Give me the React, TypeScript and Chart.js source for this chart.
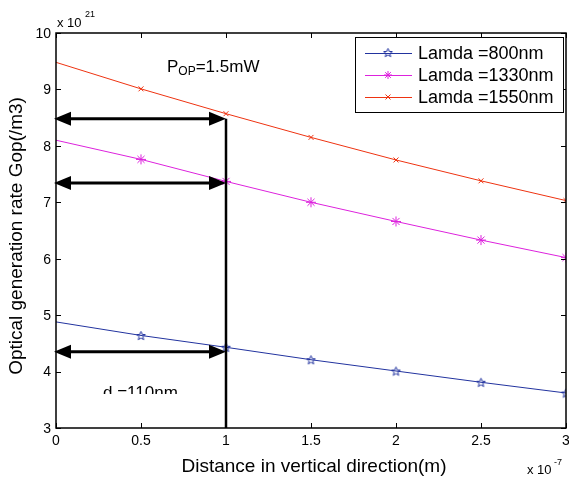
import React, { useEffect, useRef } from "react";
import { Chart, registerables } from "chart.js";
Chart.register(...registerables);

const distance = [0, 0.5, 1, 1.5, 2, 2.5, 3];
const gop800 = [4.88, 4.64, 4.43, 4.21, 4.01, 3.81, 3.62];
const gop1330 = [8.1, 7.76, 7.37, 7.0, 6.66, 6.33, 6.02];
const gop1550 = [9.48, 9.01, 8.57, 8.15, 7.75, 7.38, 7.03];
const seriesLabels = ["Lamda =800nm", "Lamda =1330nm", "Lamda =1550nm"];
const xTicks = [0, 0.5, 1, 1.5, 2, 2.5, 3];
const xTickLabels = ["0", "0.5", "1", "1.5", "2", "2.5", "3"];
const yTicks = [3, 4, 5, 6, 7, 8, 9, 10];
const yTickLabels = ["3", "4", "5", "6", "7", "8", "9", "10"];
const arrowLevels = [8.48, 7.34, 4.35];
const arrowSpan = [0, 1];

const FONT = "'Liberation Sans', Arial, sans-serif";
const COLORS = ["#22339f", "#dd22dd", "#ee3311"];

function makePentagram(color: string) {
  const c = document.createElement("canvas");
  c.width = 11;
  c.height = 11;
  const g = c.getContext("2d")!;
  g.strokeStyle = color;
  g.lineWidth = 1;
  g.beginPath();
  const cx = 5.5, cy = 6, R = 4.6, r = 2;
  for (let i = 0; i < 10; i++) {
    const a = -Math.PI / 2 + (i * Math.PI) / 5;
    const rad = i % 2 === 0 ? R : r;
    const px = cx + rad * Math.cos(a);
    const py = cy + rad * Math.sin(a);
    if (i === 0) g.moveTo(px, py);
    else g.lineTo(px, py);
  }
  g.closePath();
  g.stroke();
  return c;
}

export default function App() {
  const ref = useRef<HTMLCanvasElement | null>(null);
  useEffect(() => {
    const canvas = ref.current!;
    const star = makePentagram(COLORS[0]);

    const overlay = {
      id: "overlay",
      afterDraw(chart: any) {
        const ctx = chart.ctx as CanvasRenderingContext2D;
        const xs = chart.scales.x;
        const ys = chart.scales.y;
        const a = chart.chartArea;
        ctx.save();
        // box
        ctx.strokeStyle = "#000";
        ctx.lineWidth = 1.5;
        ctx.strokeRect(a.left, a.top, a.right - a.left, a.bottom - a.top);
        // ticks
        ctx.lineWidth = 1;
        ctx.beginPath();
        xTicks.forEach((v) => {
          const px = Math.round(xs.getPixelForValue(v)) + 0.5;
          ctx.moveTo(px, a.bottom);
          ctx.lineTo(px, a.bottom - 5);
          ctx.moveTo(px, a.top);
          ctx.lineTo(px, a.top + 5);
        });
        yTicks.forEach((v) => {
          const py = Math.round(ys.getPixelForValue(v)) + 0.5;
          ctx.moveTo(a.left, py);
          ctx.lineTo(a.left + 5, py);
          ctx.moveTo(a.right, py);
          ctx.lineTo(a.right - 5, py);
        });
        ctx.stroke();
        // tick labels
        ctx.fillStyle = "#000";
        ctx.font = `14px ${FONT}`;
        ctx.textAlign = "center";
        ctx.textBaseline = "top";
        xTicks.forEach((v, i) => {
          ctx.fillText(xTickLabels[i], xs.getPixelForValue(v), a.bottom + 6);
        });
        ctx.textAlign = "right";
        ctx.textBaseline = "middle";
        yTicks.forEach((v, i) => {
          ctx.fillText(yTickLabels[i], a.left - 5, ys.getPixelForValue(v) + 1);
        });
        // exponents
        ctx.textAlign = "left";
        ctx.textBaseline = "alphabetic";
        ctx.font = `13px ${FONT}`;
        ctx.fillText("x 10", a.left + 1, 27);
        ctx.font = `9px ${FONT}`;
        ctx.fillText("21", a.left + 29, 17);
        ctx.font = `13px ${FONT}`;
        ctx.fillText("x 10", 527, 474);
        ctx.font = `9px ${FONT}`;
        ctx.fillText("-7", 554, 465);
        // axis titles
        ctx.font = `19px ${FONT}`;
        ctx.textAlign = "center";
        ctx.textBaseline = "middle";
        ctx.fillText("Distance in vertical direction(m)", 314, 467);
        ctx.save();
        ctx.translate(17, 236);
        ctx.rotate(-Math.PI / 2);
        ctx.fillText("Optical generation rate Gop(/m3)", 0, 0);
        ctx.restore();

        // arrows
        const x0 = xs.getPixelForValue(arrowSpan[0]);
        const x1 = xs.getPixelForValue(arrowSpan[1]);
        ctx.strokeStyle = "#000";
        ctx.fillStyle = "#000";
        ctx.lineWidth = 3;
        arrowLevels.forEach((lv) => {
          const py = ys.getPixelForValue(lv);
          ctx.beginPath();
          ctx.moveTo(x0 + 10, py);
          ctx.lineTo(x1 - 10, py);
          ctx.stroke();
          ctx.beginPath();
          ctx.moveTo(x0 - 2, py);
          ctx.lineTo(x0 + 15, py - 7);
          ctx.lineTo(x0 + 15, py + 7);
          ctx.closePath();
          ctx.fill();
          ctx.beginPath();
          ctx.moveTo(x1, py);
          ctx.lineTo(x1 - 17, py - 7);
          ctx.lineTo(x1 - 17, py + 7);
          ctx.closePath();
          ctx.fill();
        });
        ctx.lineWidth = 2.5;
        ctx.beginPath();
        ctx.moveTo(x1, ys.getPixelForValue(arrowLevels[0]));
        ctx.lineTo(x1, a.bottom);
        ctx.stroke();

        // texts
        ctx.textAlign = "left";
        ctx.textBaseline = "alphabetic";
        ctx.font = `17px ${FONT}`;
        ctx.fillText("P", 167, 72);
        const w = ctx.measureText("P").width;
        ctx.font = `12px ${FONT}`;
        ctx.fillText("OP", 167 + w, 75);
        const w2 = ctx.measureText("OP").width;
        ctx.font = `17px ${FONT}`;
        ctx.fillText("=1.5mW", 167 + w + w2, 72);

        ctx.save();
        ctx.beginPath();
        ctx.rect(60, 370, 160, 24);
        ctx.clip();
        ctx.font = `17px ${FONT}`;
        ctx.fillText("d =110nm", 103, 398);
        ctx.restore();

        // legend
        const lx = 355, ly = 37, lw = 208, lh = 75;
        ctx.fillStyle = "#fff";
        ctx.fillRect(lx, ly, lw, lh);
        ctx.strokeStyle = "#000";
        ctx.lineWidth = 1;
        ctx.strokeRect(lx + 0.5, ly + 0.5, lw, lh);
        const rows = [53, 75, 97];
        seriesLabels.forEach((lab, i) => {
          const ry = rows[i];
          ctx.strokeStyle = COLORS[i];
          ctx.lineWidth = 1;
          ctx.beginPath();
          ctx.moveTo(365, ry + 0.5);
          ctx.lineTo(412, ry + 0.5);
          ctx.stroke();
          const mx = 388;
          if (i === 0) {
            ctx.drawImage(star, mx - 5.5, ry - 6);
          } else if (i === 1) {
            ctx.beginPath();
            const r = 4;
            for (let k = 0; k < 4; k++) {
              const ang = (k * Math.PI) / 4;
              ctx.moveTo(mx - r * Math.cos(ang), ry - r * Math.sin(ang));
              ctx.lineTo(mx + r * Math.cos(ang), ry + r * Math.sin(ang));
            }
            ctx.stroke();
          } else {
            ctx.beginPath();
            ctx.moveTo(mx - 2.5, ry - 2.5);
            ctx.lineTo(mx + 2.5, ry + 2.5);
            ctx.moveTo(mx - 2.5, ry + 2.5);
            ctx.lineTo(mx + 2.5, ry - 2.5);
            ctx.stroke();
          }
          ctx.fillStyle = "#000";
          ctx.font = `18px ${FONT}`;
          ctx.textAlign = "left";
          ctx.textBaseline = "middle";
          ctx.fillText(lab, 418, ry + 1);
        });
        ctx.restore();
      },
    };

    const mk = (vals: number[]) => distance.map((x, i) => ({ x, y: vals[i] }));
    const chart = new Chart(canvas, {
      type: "line",
      data: {
        datasets: [
          {
            label: seriesLabels[0],
            data: mk(gop800),
            borderColor: COLORS[0],
            backgroundColor: COLORS[0],
            borderWidth: 1,
            pointStyle: star as any,
            pointRadius: distance.map((_, i) => (i === 0 ? 0 : 4)),
            clip: 0,
          },
          {
            label: seriesLabels[1],
            data: mk(gop1330),
            borderColor: COLORS[1],
            backgroundColor: COLORS[1],
            borderWidth: 1,
            pointStyle: "star",
            pointRadius: distance.map((_, i) => (i === 0 ? 0 : 5)),
            pointBorderWidth: 1,
            clip: 0,
          },
          {
            label: seriesLabels[2],
            data: mk(gop1550),
            borderColor: COLORS[2],
            backgroundColor: COLORS[2],
            borderWidth: 1,
            pointStyle: "crossRot",
            pointRadius: distance.map((_, i) => (i === 0 ? 0 : 3.5)),
            pointBorderWidth: 1,
            clip: 0,
          },
        ],
      },
      options: {
        responsive: false,
        animation: false,
        devicePixelRatio: 1,
        layout: { autoPadding: false, padding: { left: 56, right: 3, top: 33, bottom: 54 } },
        plugins: { legend: { display: false }, tooltip: { enabled: false } },
        elements: { line: { tension: 0 } },
        scales: {
          x: { type: "linear", min: 0, max: 3, display: false },
          y: { type: "linear", min: 3, max: 10, display: false },
        },
      },
      plugins: [overlay],
    });
    return () => chart.destroy();
  }, []);

  return (
    <div style={{ position: "absolute", left: 0, top: 0, width: 569, height: 482, background: "#fff" }}>
      <canvas ref={ref} width={569} height={482} />
    </div>
  );
}
